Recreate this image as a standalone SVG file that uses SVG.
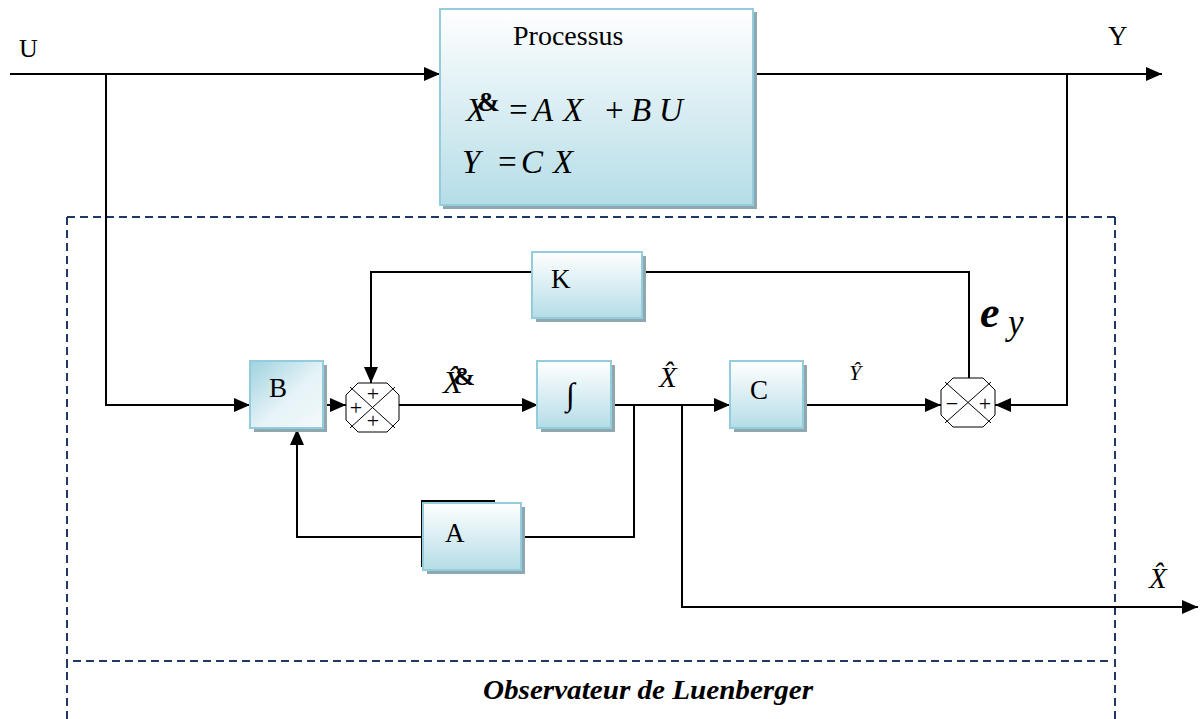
<svg xmlns="http://www.w3.org/2000/svg" width="1200" height="719" viewBox="0 0 1200 719">
  <style>
    .ser { font-family: "Liberation Serif", "Times New Roman", serif; fill: #000; }
    .it { font-style: italic; }
    .bd { font-weight: bold; }
    .box { stroke: #93cddd; stroke-width: 2; }
    .shadow { fill: #8fa8b0; }
    .wire { fill: none; stroke: #000; stroke-width: 2; }
    .sum { fill: #fff; stroke: #000; stroke-width: 1; }
    .frame { fill: none; stroke: #1f3864; stroke-width: 2; stroke-dasharray: 8 5; }
  </style>
  <defs>
    <linearGradient id="gv" x1="0" y1="0" x2="0" y2="1">
      <stop offset="0" stop-color="#ffffff"/>
      <stop offset="1" stop-color="#b5dde7"/>
    </linearGradient>
    <linearGradient id="gd" x1="0" y1="0" x2="1" y2="1">
      <stop offset="0" stop-color="#9fd2df"/>
      <stop offset="0.55" stop-color="#e6f3f7"/>
      <stop offset="1" stop-color="#f2f9fb"/>
    </linearGradient>
    <marker id="arr" markerUnits="userSpaceOnUse" viewBox="0 0 16 14" refX="16" refY="7" markerWidth="16" markerHeight="14" orient="auto">
      <path d="M0,0 L16,7 L0,14 Z" fill="#000"/>
    </marker>
  </defs>

  <rect width="1200" height="719" fill="#fff"/>

  <!-- observer frame -->
  <g id="observer-frame">
    <path class="frame" d="M67,217 H1115 M67,217 V719 M1115,217 V719"/>
    <path class="frame" d="M67,668 V661 H1113" stroke-dasharray="6 3"/>
    <text class="ser it bd" x="483" y="699" font-size="28" textLength="330" lengthAdjust="spacingAndGlyphs">Observateur de Luenberger</text>
  </g>

  <!-- connectors -->
  <g id="connectors">
    <path class="wire" d="M10,74 H440" marker-end="url(#arr)"/>
    <path class="wire" d="M753,74 H1162" marker-end="url(#arr)"/>
    <path class="wire" d="M106,74 V405 H250" marker-end="url(#arr)"/>
    <path class="wire" d="M323,405 H346" marker-end="url(#arr)"/>
    <path class="wire" d="M532,272 H371 V383" marker-end="url(#arr)"/>
    <path class="wire" d="M399,405 H538" marker-end="url(#arr)"/>
    <path class="wire" d="M611,405 H730" marker-end="url(#arr)"/>
    <path class="wire" d="M634,405 V537 H521"/>
    <path class="wire" d="M423,537 H297 V429" marker-end="url(#arr)"/>
    <path class="wire" d="M682,405 V607 H1198" marker-end="url(#arr)"/>
    <path class="wire" d="M803,405 H941" marker-end="url(#arr)"/>
    <path class="wire" d="M642,272 H969 V378"/>
    <path class="wire" d="M1067,74 V405 H995" marker-end="url(#arr)"/>
  </g>

  <!-- plant -->
  <g id="processus">
    <rect class="shadow" x="443" y="12" width="314" height="197"/>
    <rect class="box" x="440" y="9" width="313" height="196" fill="url(#gv)"/>
    <text class="ser" x="513" y="45" font-size="28">Processus</text>
    <text class="ser it" y="121" font-size="33">
      <tspan x="466">X</tspan><tspan class="bd" font-style="normal" font-size="27" dx="-9" dy="-10">&amp;</tspan><tspan x="507" dy="10">=</tspan><tspan x="533">A</tspan><tspan x="563">X</tspan><tspan x="603">+</tspan><tspan x="631">B</tspan><tspan x="659">U</tspan>
    </text>
    <text class="ser it" y="173" font-size="33">
      <tspan x="462">Y</tspan><tspan x="496">=</tspan><tspan x="521">C</tspan><tspan x="553">X</tspan>
    </text>
  </g>

  <g id="gain-k">
    <rect class="shadow" x="536" y="256" width="110" height="66"/>
    <rect class="box" x="532" y="252" width="110" height="66" fill="url(#gv)"/>
    <text class="ser" x="551" y="288" font-size="27">K</text>
  </g>

  <g id="gain-b">
    <rect class="shadow" x="254" y="365" width="73" height="67"/>
    <rect class="box" x="250" y="361" width="73" height="67" fill="url(#gd)"/>
    <text class="ser" x="269" y="397" font-size="27">B</text>
  </g>

  <g id="sum-1">
    <polygon class="sum" points="358,383 387,383 399,395 399,420 387,432 358,432 346,420 346,395"/>
    <path d="M350,387 L395,428 M395,387 L350,428" stroke="#000" stroke-width="1"/>
    <text class="ser" x="373" y="401" font-size="22" text-anchor="middle">+</text>
    <text class="ser" x="356" y="415" font-size="22" text-anchor="middle">+</text>
    <text class="ser" x="373" y="428" font-size="22" text-anchor="middle">+</text>
  </g>

  <g id="integrator">
    <rect class="shadow" x="541" y="365" width="74" height="67"/>
    <rect class="box" x="537" y="361" width="74" height="67" fill="url(#gv)"/>
    <text class="ser" x="566" y="405" font-size="32">∫</text>
  </g>

  <g id="gain-c">
    <rect class="shadow" x="734" y="365" width="73" height="67"/>
    <rect class="box" x="730" y="361" width="73" height="67" fill="url(#gv)"/>
    <text class="ser" x="750" y="399" font-size="27">C</text>
  </g>

  <g id="gain-a">
    <path d="M422,567 V501 H494 V504" fill="none" stroke="#000" stroke-width="2"/>
    <rect class="shadow" x="427" y="507" width="98" height="67"/>
    <rect class="box" x="423" y="503" width="98" height="67" fill="url(#gv)"/>
    <text class="ser" x="445" y="542" font-size="27">A</text>
  </g>

  <g id="sum-2">
    <polygon class="sum" points="953,378 983,378 995,390 995,415 983,427 953,427 941,415 941,390"/>
    <path d="M945,382 L991,423 M991,382 L945,423" stroke="#000" stroke-width="1"/>
    <text class="ser" x="952" y="411" font-size="22" text-anchor="middle">−</text>
    <text class="ser" x="985" y="411" font-size="22" text-anchor="middle">+</text>
  </g>

  <!-- signal labels -->
  <g id="labels">
    <text class="ser" x="19" y="57" font-size="26">U</text>
    <text class="ser" x="1108" y="45" font-size="27">Y</text>
    <text class="ser it" x="443" y="393" font-size="32">X̂<tspan class="bd" font-style="normal" font-size="26" dx="-9" dy="-8">&amp;</tspan></text>
    <text class="ser it" x="659" y="387" font-size="29">X̂</text>
    <text class="ser it" x="849" y="380" font-size="22">Ŷ</text>
    <text class="ser it bd" x="980" y="327" font-size="44">e</text>
    <text class="ser it" x="1008" y="334" font-size="35">y</text>
    <text class="ser it" x="1149" y="588" font-size="29">X̂</text>
  </g>
</svg>
